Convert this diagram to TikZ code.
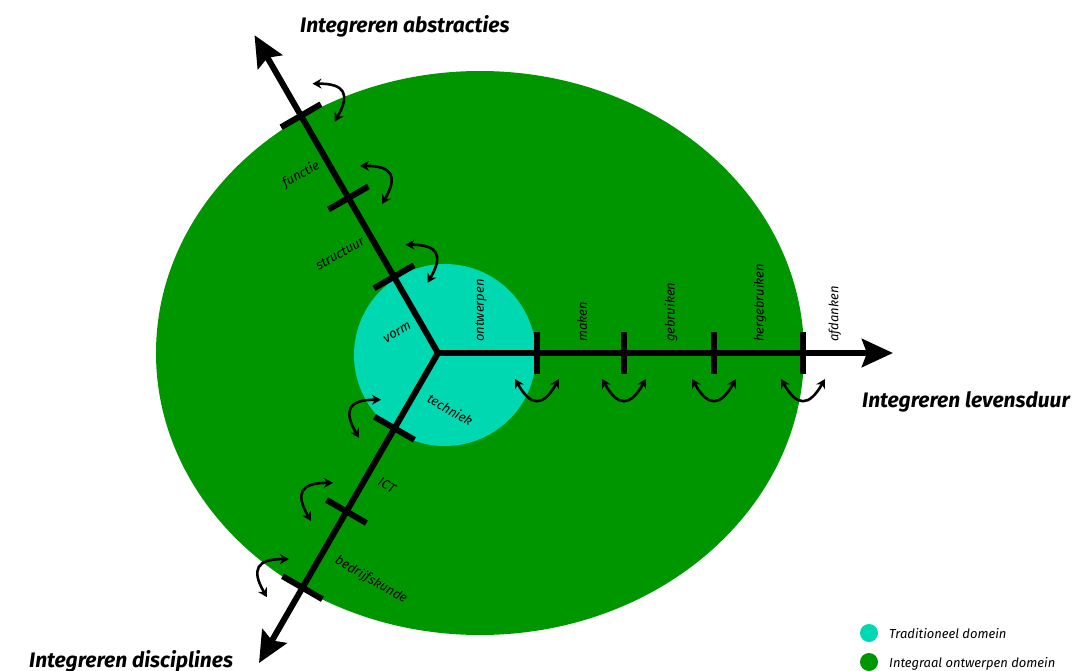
\documentclass[tikz,border=0pt]{standalone}
\usepackage{fontspec}
\setmainfont{Fira Sans}
\usetikzlibrary{arrows.meta}
\definecolor{outergreen}{HTML}{009600}
\definecolor{innercyan}{HTML}{00D8B2}
\begin{document}
\begin{tikzpicture}[x=1pt,y=1pt,
  axisline/.style={line width=6pt, line cap=round, -{Stealth[length=31pt,width=28pt,inset=5pt]}},
  tickmark/.style={line width=6pt},
  swaparrow/.style={line width=2.6pt, {Stealth[length=9pt,width=10pt]}-{Stealth[length=9pt,width=10pt]}},
  lbl/.style={font=\itshape\fontsize{13}{13}\selectfont, inner sep=0pt},
  bigtitle/.style={font=\bfseries\itshape\fontsize{21}{21}\selectfont, inner sep=0pt, anchor=base west},
  legenddot/.style={circle, inner sep=0pt, minimum size=18pt}]
\useasboundingbox (-438,-317) rectangle (652,353);
% domains
\fill[outergreen] (42,0) ellipse [x radius=324, y radius=282];
\fill[innercyan] (7,-2) circle [radius=91];
% axes
\coordinate (O) at (0,0);
\coordinate (tipR) at (455,0);
\coordinate (tipU) at (120:367);
\coordinate (tipD) at (240:358);
\draw[axisline] (O) -- (tipR);
\draw[axisline] (O) -- (tipU);
\draw[axisline] (O) -- (tipD);
% right axis
\foreach \d in {99,186,276,365} {
  \draw[tickmark] (\d,-21) -- (\d,21);
  \draw[swaparrow] (\d-22,-26) .. controls (\d-6,-54) and (\d+6,-54) .. (\d+22,-26);
}
\node[lbl, rotate=90, anchor=west] (lontwerpen) at (43,11) {ontwerpen};
\node[lbl, rotate=90, anchor=west] (lmaken) at (144,11) {maken};
\node[lbl, rotate=90, anchor=west] (lgebruiken) at (233,11) {gebruiken};
\node[lbl, rotate=90, anchor=west] (lhergebruiken) at (322,11) {hergebruiken};
\node[lbl, rotate=90, anchor=west] (lafdanken) at (397,11) {afdanken};
% upper axis
\begin{scope}[rotate=120]
\foreach \d in {88,179,274} {
  \draw[tickmark] (\d,-23) -- (\d,23);
  \draw[swaparrow] (\d-22,-26) .. controls (\d-6,-54) and (\d+6,-54) .. (\d+22,-26);
}
\node[lbl, rotate=30, anchor=east] (lvorm) at (38,10) {vorm};
\node[lbl, rotate=30, anchor=east] (lstructuur) at (135,8) {structuur};
\node[lbl, rotate=30, anchor=east] (lfunctie) at (223,9) {functie};
\end{scope}
% lower axis
\begin{scope}[rotate=240]
\foreach \d in {87,183,271} {
  \draw[tickmark] (\d,-23) -- (\d,23);
  \draw[swaparrow] (\d-18,-26) .. controls (\d-2,-54) and (\d+10,-54) .. (\d+26,-26);
}
\node[lbl, rotate=-30, anchor=west] (ltechniek) at (43,14) {techniek};
\node[lbl, rotate=-30, anchor=west] (lict) at (140,13) {ICT};
\node[lbl, rotate=-30, anchor=west] (lbedrijf) at (230,15) {bedrijfskunde};
\end{scope}
% titles
\node[bigtitle] (tA) at (-138,320) {Integreren abstracties};
\node[bigtitle] (tL) at (424,-54) {Integreren levensduur};
\node[bigtitle] (tD) at (-409,-314) {Integreren disciplines};
% legend
\node[legenddot, fill=innercyan] (lg1) at (431,-280) {};
\node[legenddot, fill=outergreen] (lg2) at (431,-309) {};
\node[lbl, anchor=base west] (lt1) at (451,-285) {Traditioneel domein};
\node[lbl, anchor=base west] (lt2) at (451,-314) {Integraal ontwerpen domein};
\end{tikzpicture}
\end{document}
